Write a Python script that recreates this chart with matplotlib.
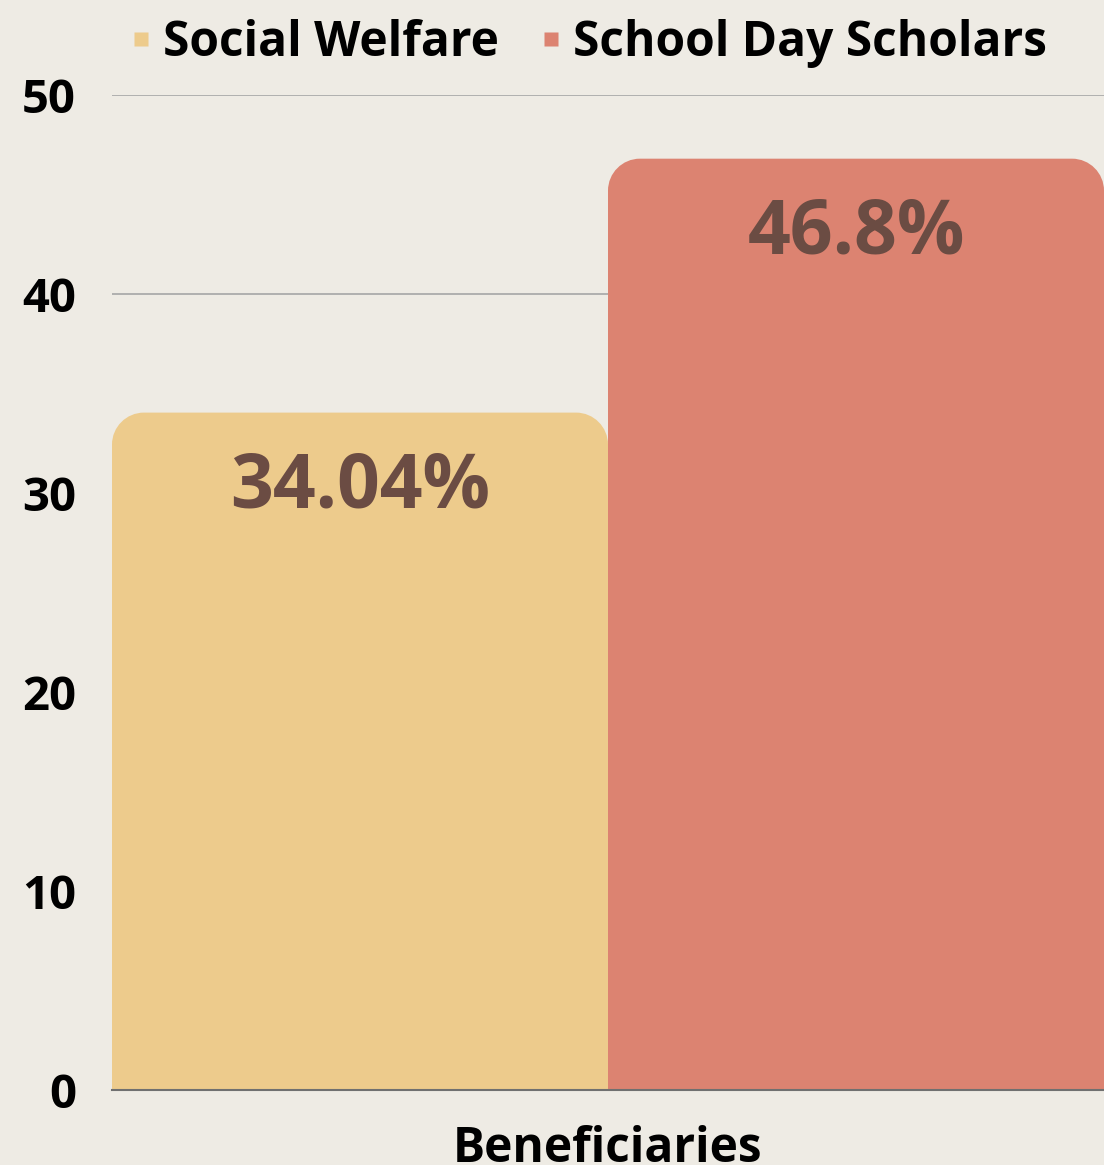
import matplotlib
matplotlib.use("Agg")
import matplotlib.pyplot as plt
from matplotlib.path import Path
from matplotlib.patches import PathPatch
from matplotlib.lines import Line2D

# ---- data ----
category = "Beneficiaries"
series = ["Social Welfare", "School Day Scholars"]
values = [34.04, 46.8]
labels = ["34.04%", "46.8%"]
colors = ["#EDCB8C", "#DC8371"]
yticks = [0, 10, 20, 30, 40, 50]

plt.rcParams['font.family'] = ['Open Sans', 'DejaVu Sans']
WT = 'bold'

W, H = 1104, 1165
fig = plt.figure(figsize=(W / 100, H / 100), dpi=100)
bg = "#EEEBE4"
fig.patch.set_facecolor(bg)
ax = fig.add_axes([112 / W, 1 - 1090 / H, (W - 112) / W, (1090 - 95) / H])
ax.set_facecolor(bg)
ax.set_xlim(-0.5, 0.5)
ax.set_ylim(0, 50)

n = len(values)
width = 1.0 / n
xs = [-0.5 + width * (i + 0.5) for i in range(n)]
bars = ax.bar(xs, values, width=width, color=colors, zorder=2)

# convert a pixel radius to data units
r_px = 32
ax_w_px = (W - 112)
ax_h_px = (1090 - 95)
rx = r_px * 1.0 / ax_w_px
ry = r_px * 50.0 / ax_h_px
k = 0.5523

for b in bars:
    x0 = b.get_x(); x1 = x0 + b.get_width(); y0 = b.get_y(); y1 = y0 + b.get_height()
    verts = [
        (x0, y0), (x0, y1 - ry),
        (x0, y1 - ry + k * ry), (x0 + rx - k * rx, y1), (x0 + rx, y1),
        (x1 - rx, y1),
        (x1 - rx + k * rx, y1), (x1, y1 - ry + k * ry), (x1, y1 - ry),
        (x1, y0), (x0, y0),
    ]
    codes = [Path.MOVETO, Path.LINETO,
             Path.CURVE4, Path.CURVE4, Path.CURVE4,
             Path.LINETO,
             Path.CURVE4, Path.CURVE4, Path.CURVE4,
             Path.LINETO, Path.CLOSEPOLY]
    ax.add_patch(PathPatch(Path(verts, codes), facecolor=b.get_facecolor(),
                           edgecolor='none', zorder=2.5))
    b.set_visible(False)

for b, lab in zip(bars, labels):
    ax.annotate(lab, (b.get_x() + b.get_width() / 2, b.get_height()),
                xytext=(0, -27), textcoords='offset points',
                ha='center', va='top', fontsize=54, fontweight=WT,
                color='#6B4C43', zorder=3)

ax.set_yticks(yticks)
ax.set_yticklabels([str(t) for t in yticks], fontsize=34, fontweight=WT)
ax.set_xticks([0])
ax.set_xticklabels([category], fontsize=34.5, fontweight=WT)
ax.tick_params(axis='y', length=0, pad=26)
ax.tick_params(axis='x', length=0, pad=25)
ax.yaxis.grid(True, color='#ABABAB', linewidth=1.3, zorder=1)
ax.set_axisbelow(True)
for s in ['top', 'right', 'left']:
    ax.spines[s].set_visible(False)
ax.spines['bottom'].set_color('#707070')
ax.spines['bottom'].set_linewidth(1.5)
ax.spines['bottom'].set_zorder(4)

handles = [Line2D([], [], marker='s', linestyle='none', markersize=9.5,
                  markerfacecolor=c, markeredgecolor='none') for c in colors]
fig.legend(handles, series, loc='upper center', bbox_to_anchor=(588 / W, 1.0 + 24 / H),
           ncol=2, frameon=False, handlelength=0.5,
           handletextpad=0.2, columnspacing=0.85, prop={'weight': WT, 'size': 34.5})

fig.savefig("out.png", dpi=100, facecolor=bg)
